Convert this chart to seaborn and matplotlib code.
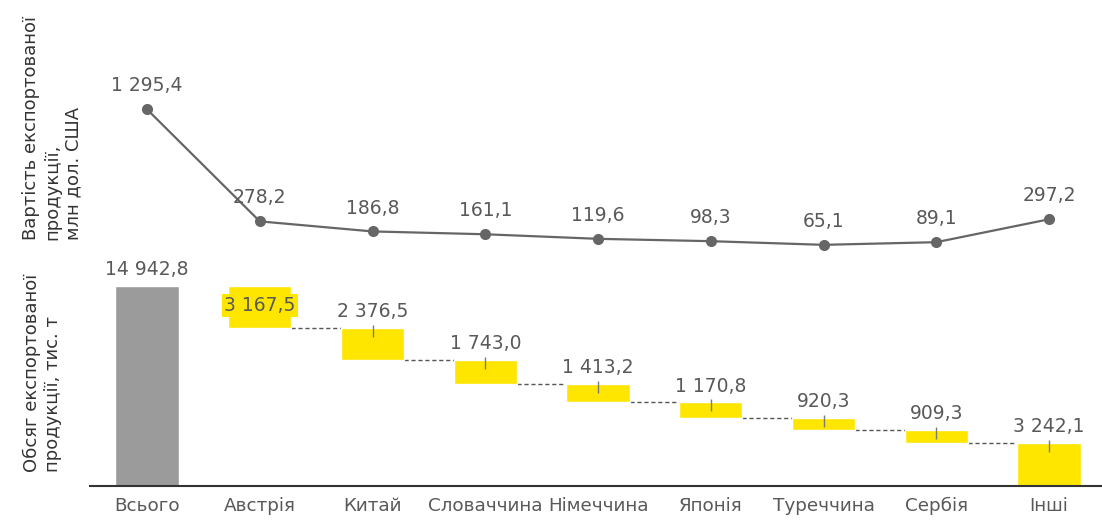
import numpy as np
import matplotlib
matplotlib.use("Agg")
import matplotlib.pyplot as plt
import seaborn as sns

# Data
countries = ['Всього', 'Австрія', 'Китай', 'Словаччина', 'Німеччина',
             'Японія', 'Туреччина', 'Сербія', 'Інші']
value_usd = [1295.4, 278.2, 186.8, 161.1, 119.6, 98.3, 65.1, 89.1, 297.2]
volume_kt = [14942.8, 3167.5, 2376.5, 1743.0, 1413.2, 1170.8, 920.3, 909.3, 3242.1]


def fmt(v):
    return f"{v:,.1f}".replace(',', ' ').replace('.', ',')


sns.set_style("white")
plt.rcParams['font.family'] = ['DejaVu Sans']

TXT = '#595959'
LINE = '#666666'
YEL = '#FFE600'
GREY = '#9B9B9B'

fig = plt.figure(figsize=(11.02, 5.2), dpi=100)
W, H = 1102, 520

# axes in pixel geometry
ax_top = fig.add_axes([90 / W, (H - 252) / H, 1012 / W, 192 / H])
ax_bot = fig.add_axes([90 / W, (H - 486) / H, 1012 / W, 226 / H])

x = np.arange(len(countries))
xlim = (-0.506, 8.47)

# === TOP: value line ===
sns.lineplot(x=x, y=value_usd, ax=ax_top, color=LINE, linewidth=1.6,
             marker='o', markersize=8, markeredgewidth=0)
for xi, v in zip(x, value_usd):
    ax_top.annotate(fmt(v), (xi, v), xytext=(0, 10), textcoords='offset points',
                    ha='center', va='bottom', fontsize=13.5, color=TXT)
ax_top.set_xlim(xlim)
ax_top.set_ylim(0, 192 / (112 / 1017.2))
ax_top.axis('off')

# === BOTTOM: waterfall ===
total = volume_kt[0]
tops = [total]
bottoms = [0]
level = total
for v in volume_kt[1:]:
    tops.append(level)
    bottoms.append(level - v)
    level -= v
heights = [t - b for t, b in zip(tops, bottoms)]
colors = [GREY] + [YEL] * (len(countries) - 1)

bw = 0.56
ax_bot.bar(x, heights, bottom=bottoms, width=bw, color=colors, zorder=2)

ymax = total * 226 / 200
ax_bot.set_xlim(xlim)
ax_bot.set_ylim(0, ymax)
per_px = ymax / 226

# dashed connectors
for i in range(len(countries) - 1):
    ax_bot.plot([i + bw / 2, i + 1 - bw / 2], [bottoms[i], bottoms[i]],
                color='#555555', lw=1, dashes=(3, 2), zorder=1)

# small ticks and labels
for i in range(2, len(countries)):
    ax_bot.vlines(i, tops[i] - 9 * per_px, tops[i] + 3 * per_px,
                  color='#7a7a7a', lw=1, zorder=3)

for i, v in enumerate(volume_kt):
    if i == 1:
        ax_bot.text(i, (tops[i] + bottoms[i]) / 2 + 1.5 * per_px, fmt(v),
                    ha='center', va='center', fontsize=13.5, color=TXT, zorder=4,
                    bbox=dict(boxstyle='square,pad=0.12', fc=YEL, ec='none'))
    else:
        ax_bot.annotate(fmt(v), (i, tops[i]), xytext=(0, 5),
                        textcoords='offset points', ha='center', va='bottom',
                        fontsize=13.5, color=TXT)

sns.despine(ax=ax_bot, left=True, top=True, right=True)
ax_bot.spines['bottom'].set_color('#333333')
ax_bot.spines['bottom'].set_linewidth(1.5)
ax_bot.set_yticks([])
ax_bot.set_xticks(x)
ax_bot.set_xticklabels(countries, fontsize=13.2, color=TXT)
ax_bot.tick_params(axis='x', length=0, pad=8)

# axis titles
fig.text(52 / W, (H - 240) / H, "Вартість експортованої\nпродукції,\nмлн дол. США",
         rotation=90, ha='center', va='bottom', multialignment='left',
         fontsize=13, color='#333333', linespacing=1.22)
fig.text(42 / W, (H - 472) / H, "Обсяг експортованої\nпродукції, тис. т",
         rotation=90, ha='center', va='bottom', multialignment='left',
         fontsize=13, color='#333333', linespacing=1.22)

fig.savefig("out.png", dpi=100)
